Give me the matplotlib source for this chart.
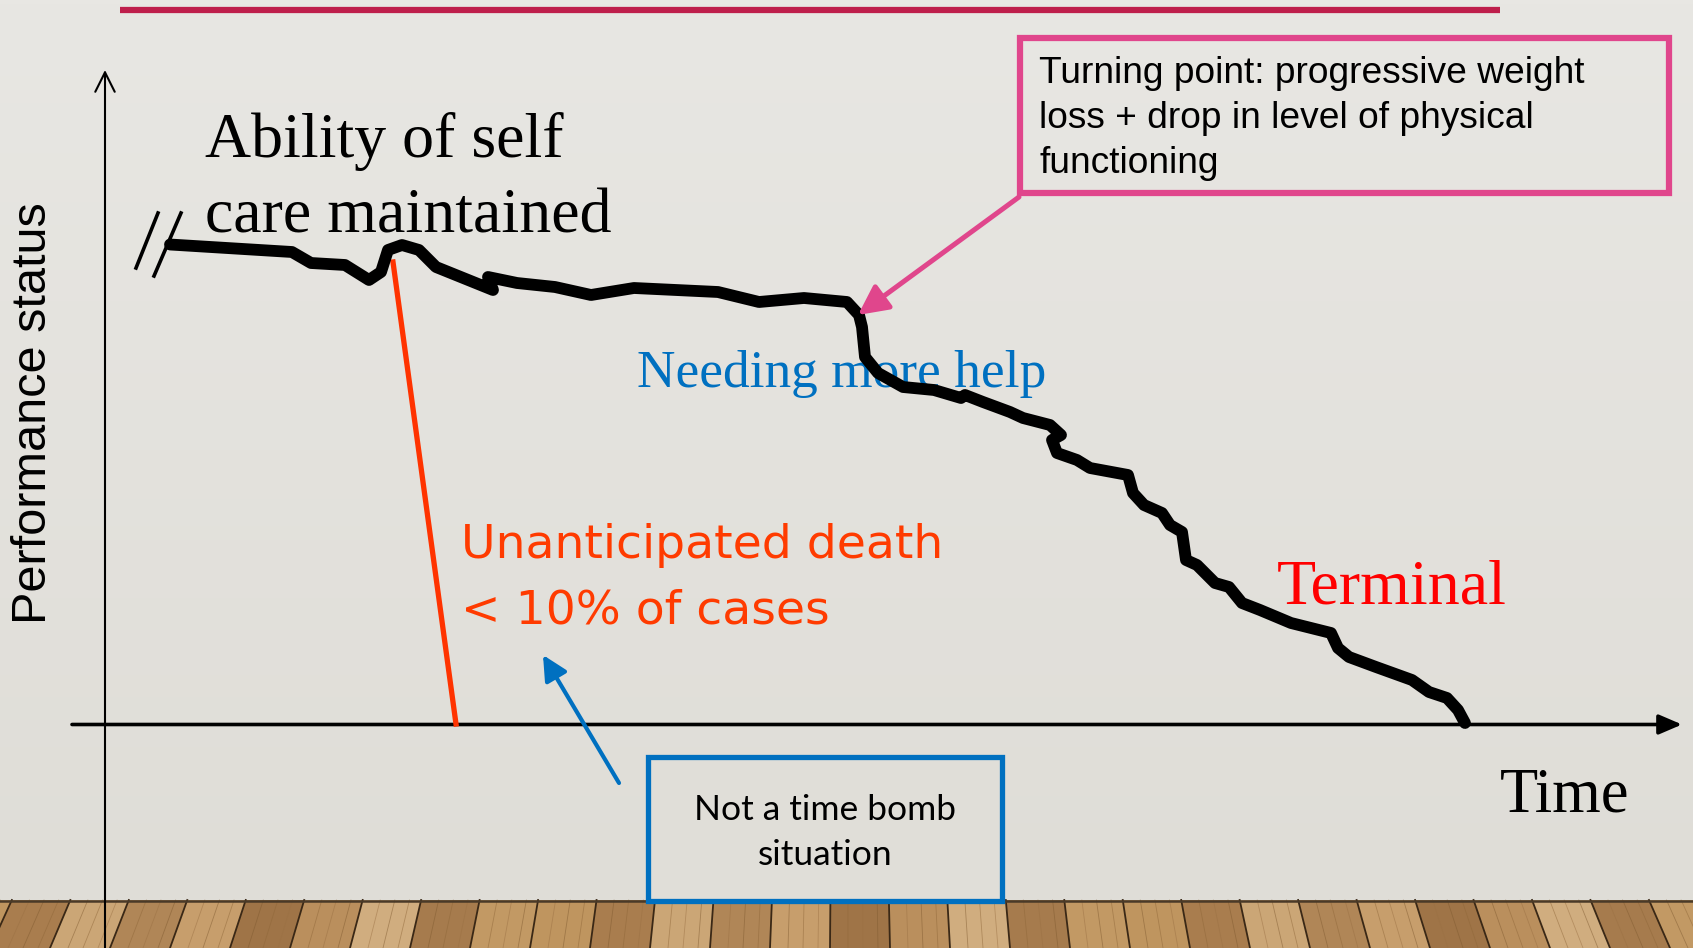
import matplotlib
matplotlib.use('Agg')
import matplotlib.pyplot as plt
import numpy as np
from matplotlib.patches import Rectangle, Polygon

W, H = 1693, 948

# performance curve, axis units (origin where the two axes cross)
time = [6.5, 18.7, 20.6, 24.0, 26.4, 27.6, 28.3, 29.7, 31.4, 33.1, 38.8, 38.3,
        41.2, 45.0, 48.6, 52.9, 61.3, 65.4, 69.9, 74.2, 75.4, 75.7, 76.0, 77.3,
        79.8, 82.9, 85.6, 86.0, 87.8, 90.5, 91.8, 94.5, 95.6, 94.7, 95.2, 97.2,
        98.5, 102.3, 102.8, 103.9, 105.7, 106.5, 107.7, 108.1, 109.2, 111.0,
        112.4, 113.7, 115.5, 118.6, 122.6, 123.3, 124.4, 127.1, 130.7, 132.4,
        134.2, 135.3, 136.0]
perf = [48.0, 47.25, 46.15, 45.95, 44.45, 45.25, 47.45, 47.95, 47.45, 45.75,
        43.45, 44.75, 44.15, 43.75, 42.95, 43.65, 43.25, 42.25, 42.65, 42.25,
        40.95, 39.75, 36.75, 35.15, 33.75, 33.45, 32.65, 32.95, 32.25, 31.25,
        30.65, 29.95, 28.95, 28.45, 27.15, 26.45, 25.65, 24.95, 23.15, 21.95,
        21.15, 19.95, 19.25, 16.45, 15.95, 14.15, 13.75, 12.15, 11.45, 10.15,
        9.15, 7.65, 6.75, 5.75, 4.45, 3.25, 2.65, 1.45, 0.15]

# sudden death line
death_time = [28.8, 35.1]
death_perf = [46.25, 0.05]

# turning point on the curve
turn_time, turn_perf = 75.3, 40.95

# axis break marks
break_time = [[5.3, 3.1], [7.6, 4.9]]
break_perf = [[51.15, 45.65], [51.15, 44.85]]

y_label = 'Performance status'
x_label = 'Time'
top_label = ['Ability of self', 'care maintained']
mid_label = 'Needing more help'
end_label = 'Terminal'
death_label = ['Unanticipated death', '< 10% of cases']
turn_note = ['Turning point: progressive weight',
             'loss + drop in level of physical',
             'functioning']
bomb_note = ['Not a time bomb', 'situation']

# mapping of the axis units onto the slide (pixels)
X0, Y0, S = 105, 724.5, 10

PINK = '#e0468c'
BLUE = '#0070c0'
ORANGE = '#ff3b00'

fig = plt.figure(figsize=(W / 100, H / 100), dpi=100)

bg = fig.add_axes([0, 0, 1, 1], zorder=0)
bg.set_xlim(0, W)
bg.set_ylim(H, 0)
bg.axis('off')

# wall
grad = np.linspace(0, 1, 200)[:, None, None]
top_c = np.array([232, 231, 227]) / 255
bot_c = np.array([223, 221, 215]) / 255
wall = top_c + (bot_c - top_c) * grad
bg.imshow(np.repeat(wall, 2, axis=1), extent=(0, W, 900, 0), aspect='auto')

# wooden floor
shades = ['#bf955f', '#a97d4e', '#cba676', '#b08657', '#c79e6c', '#9f7447',
          '#ba8f5d', '#d0ad7f', '#a67b4d', '#c29964']
grain = ['#8e6638', '#9a7043', '#7f5a30']
vx, vy = 846, -932
k = (900 - vy) / (948 - vy)
xb = np.arange(-70, W + 90, 60)
for i in range(len(xb) - 1):
    a, b = xb[i], xb[i + 1]
    ta, tb = vx + (a - vx) * k, vx + (b - vx) * k
    bg.add_patch(Polygon([(a, H), (b, H), (tb, 900), (ta, 900)], closed=True,
                         facecolor=shades[i % len(shades)], edgecolor='none'))
    for j, f in enumerate((0.3, 0.55, 0.8)):
        gb = a + (b - a) * f
        gt = ta + (tb - ta) * f
        bg.plot([gb, gt], [H, 900], color=grain[(i + j) % 3], lw=0.6, alpha=0.5)
    bg.plot([a, ta], [H, 900], color='#3a2816', lw=1.3)
bg.plot([0, W], [900.5, 900.5], color='#4a3a28', lw=1.8)

# top rule
bg.plot([120, 1500], [9.5, 9.5], color='#be1e4b', lw=4.5, solid_capstyle='butt')

ax = fig.add_axes([0, 0, 1, 1], zorder=1)
ax.set_xlim((0 - X0) / S, (W - X0) / S)
ax.set_ylim((Y0 - H) / S, Y0 / S)
ax.axis('off')
ax.patch.set_alpha(0)
P = bg.transData

# axes
ax.annotate('', xy=(0, 65.45), xytext=(0, (Y0 - H) / S),
            arrowprops=dict(arrowstyle='->,head_length=0.7,head_width=0.35',
                            lw=1.5, color='black', mutation_scale=20,
                            shrinkA=0, shrinkB=0))
ax.annotate('', xy=(157.7, 0), xytext=(-3.3, 0),
            arrowprops=dict(arrowstyle='-|>,head_length=0.7,head_width=0.3',
                            lw=2.6, color='black', mutation_scale=20,
                            shrinkA=0, shrinkB=0))

for bt, bp in zip(break_time, break_perf):
    ax.plot(bt, bp, color='black', lw=2.6)

ax.plot(death_time, death_perf, color='#ff3300', lw=3.8, zorder=3)
ax.plot(time, perf, color='black', lw=8.5, solid_joinstyle='round',
        solid_capstyle='round', zorder=4)

# labels
ax.text(34, 413, y_label, transform=P, rotation=90, ha='center', va='center',
        fontsize=35, family='Liberation Sans')
ax.text(1500, 812, x_label, transform=P, fontsize=45, family='Liberation Serif',
        va='baseline')
for line, yb in zip(top_label, [157, 232]):
    ax.text(205, yb, line, transform=P, fontsize=46, family='Liberation Serif',
            va='baseline')
ax.text(637, 387, mid_label, transform=P, fontsize=38.4, color=BLUE,
        family='Liberation Serif', va='baseline', zorder=2)
ax.text(1277, 603, end_label, transform=P, fontsize=46, color='#ff0000',
        family='Liberation Serif', va='baseline')
for line, yb in zip(death_label, [558, 623]):
    ax.text(461, yb, line, transform=P, fontsize=34, color=ORANGE,
            family='DejaVu Sans', va='baseline')

# turning point box + arrow
ax.add_patch(Rectangle((1020, 38), 649, 155, transform=P, fill=False,
                       edgecolor=PINK, lw=4.5))
for line, yb in zip(turn_note, [83, 128, 173]):
    ax.text(1039, yb, line, transform=P, fontsize=26.7, family='Liberation Sans',
            va='baseline')
ax.annotate('', xy=(turn_time, turn_perf), xytext=(1019, 197), textcoords=P,
            arrowprops=dict(arrowstyle='-|>,head_length=0.6,head_width=0.3',
                            lw=3.6, color=PINK, mutation_scale=30,
                            shrinkA=0, shrinkB=0), zorder=5)

# time bomb box + arrow
ax.add_patch(Rectangle((648, 757), 354, 144, transform=P, fill=True,
                       facecolor='#e0ded8', edgecolor=BLUE, lw=3.8, zorder=3))
for line, yb in zip(bomb_note, [820, 865]):
    ax.text(825, yb, line, transform=P, fontsize=25.5, family='Lato',
            ha='center', va='baseline', zorder=4)
ax.annotate('', xy=(543, 655), xycoords=P, xytext=(619, 783), textcoords=P,
            arrowprops=dict(arrowstyle='-|>,head_length=0.6,head_width=0.3',
                            lw=3.0, color=BLUE, mutation_scale=25,
                            shrinkA=0, shrinkB=0))

fig.savefig('out.png', dpi=100)
